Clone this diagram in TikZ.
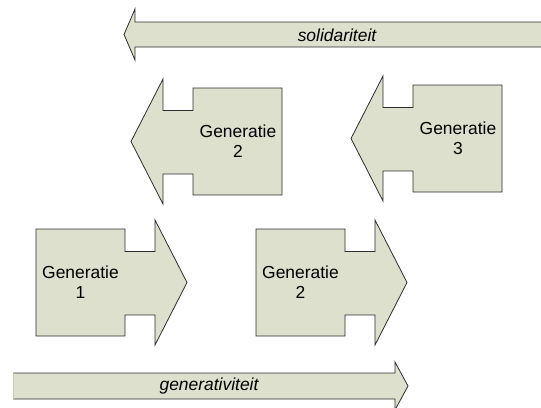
\documentclass[tikz,border=0pt]{standalone}
\usepackage{fontspec}
\setmainfont{Liberation Sans}
\usepackage{tikz}

\definecolor{blokvulling}{RGB}{221,224,204}
\definecolor{blokrand}{RGB}{45,45,45}
\definecolor{lichtrand}{RGB}{200,204,186}

\tikzset{
  blok/.style={draw=blokrand, fill=blokvulling, line width=0.8pt, line join=miter},
  tekst/.style={align=center, inner sep=0pt, font=\fontsize{17.5}{20}\selectfont},
  % generatie-pijl, linksboven van het blok in de oorsprong
  genpijl/.pic={
    \draw[blok] (0,0) -- (89,0) -- (89,22.5) -- (119,22.5) -- (119,-9) -- (151,53.5)
      -- (119,116) -- (119,86) -- (89,86) -- (89,107) -- (0,107) -- cycle;
  }
}

\begin{document}
\begin{tikzpicture}[x=1bp, y=-1bp]
\useasboundingbox (0,0) rectangle (541,407);

% bovenste pijl
\draw[blok] (542,22) -- (135,22) -- (135,9) -- (124,34.5) -- (135,60) -- (135,47) -- (542,47);
\node[tekst, font=\fontsize{17.5}{20}\selectfont\itshape] (solid) at (337,35) {solidariteit};

% generaties, naar links
\pic[xscale=-1] at (282,88) {genpijl};
\pic[xscale=-1] at (502,85) {genpijl};
\node[tekst] (gen2b) at (238,141.5) {Generatie\\2};
\node[tekst] (gen3) at (458,138.5) {Generatie\\3};

% generaties, naar rechts
\pic at (36,229) {genpijl};
\pic at (256,229) {genpijl};
\node[tekst] (gen1) at (80.5,282.5) {Generatie\\1};
\node[tekst] (gen2o) at (300.5,282.5) {Generatie\\2};

% onderste pijl
\draw[blok] (13,373) -- (395,373) -- (395,362) -- (408,386) -- (395,410) -- (395,399) -- (13,399);
\draw[lichtrand, line width=0.8pt] (13,373) -- (13,399);
\node[tekst, font=\fontsize{17.5}{20}\selectfont\itshape] (gener) at (209,386) {generativiteit};
\end{tikzpicture}
\end{document}
